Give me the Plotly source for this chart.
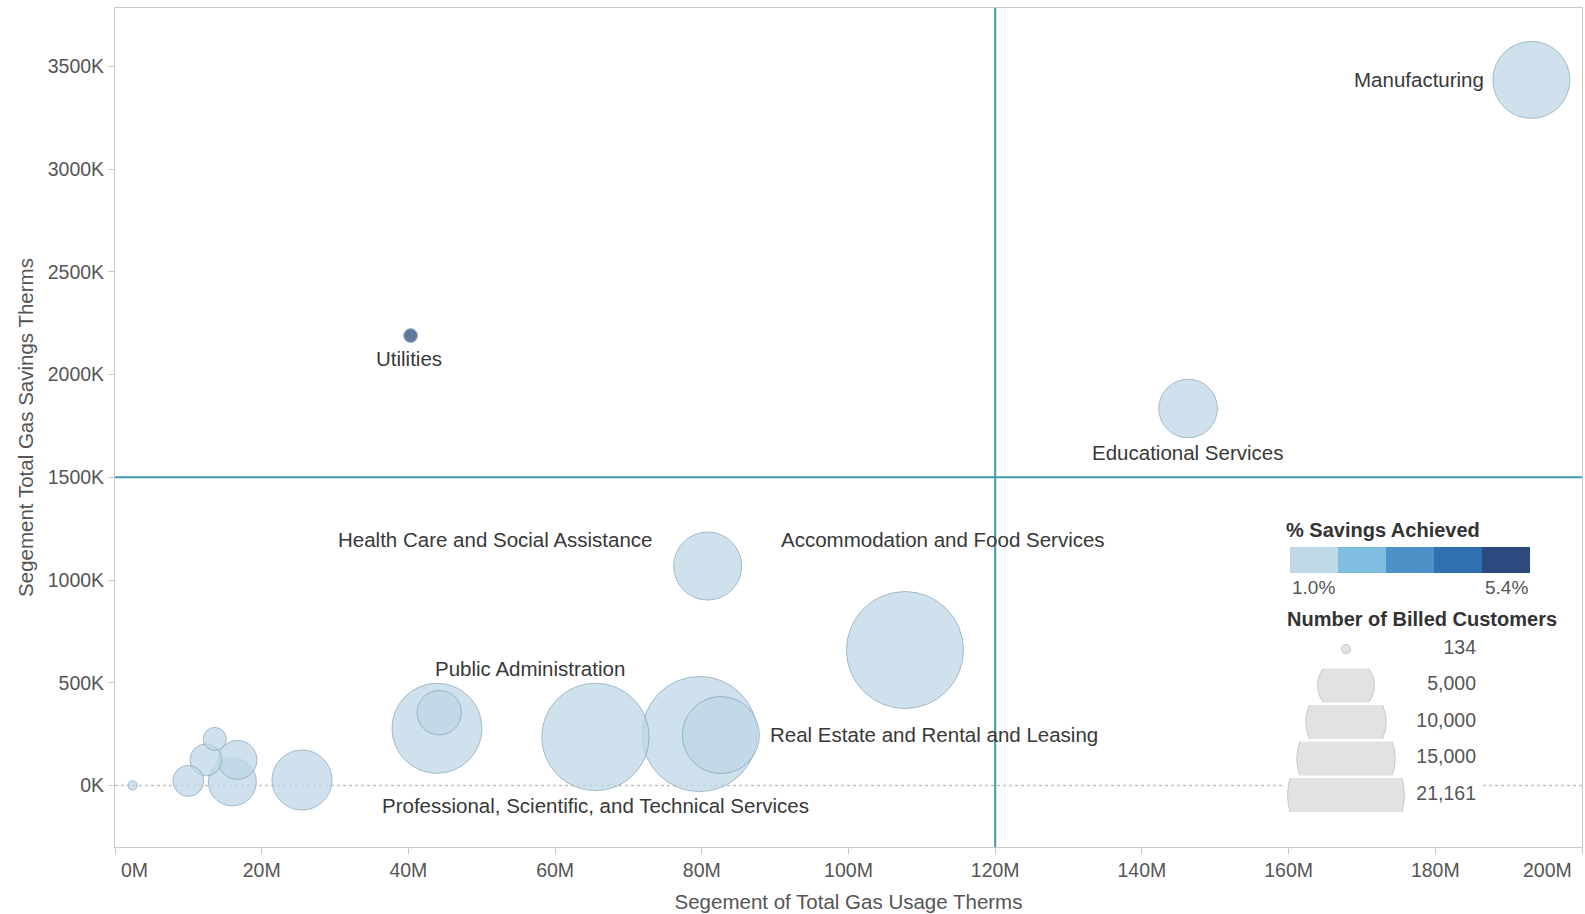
import plotly.graph_objects as go

# ---------------- data ----------------
industries = [
    "Accommodation and Food Services", "Retail Trade",
    "Professional, Scientific, and Technical Services", "Public Administration",
    "Manufacturing", "Real Estate and Rental and Leasing",
    "Health Care and Social Assistance", "Educational Services",
    "Other Services", "Construction", "Finance and Insurance",
    "Wholesale Trade", "Information", "Transportation and Warehousing",
    "Arts, Entertainment, and Recreation", "Utilities", "Mining",
]
usage_mtherms = [107.7, 79.7, 65.5, 43.9, 193.1, 82.6, 80.8, 146.3,
                 25.5, 16.0, 44.2, 16.7, 12.4, 10.0, 13.6, 40.3, 2.4]
savings_ktherms = [659, 250, 236, 278, 3435, 245, 1068, 1835,
                   26, 17, 354, 124, 124, 22, 226, 2190, 0]
billed_customers = [21161, 20500, 17830, 12520, 9170, 9170, 7150, 5310,
                    5570, 3560, 3050, 2350, 1580, 1490, 820, 300, 134]
pct_savings = [1.1, 1.0, 1.2, 1.1, 1.8, 1.2, 1.4, 1.3,
               1.2, 1.3, 1.5, 1.4, 1.6, 1.2, 1.5, 5.4, 1.0]

labelled = ["Manufacturing", "Utilities", "Educational Services",
            "Health Care and Social Assistance", "Accommodation and Food Services",
            "Public Administration", "Professional, Scientific, and Technical Services",
            "Real Estate and Rental and Leasing"]

x_tick_vals_m = [0, 20, 40, 60, 80, 100, 120, 140, 160, 180, 200]
x_tick_text = ["0M", "20M", "40M", "60M", "80M", "100M", "120M", "140M", "160M", "180M", "200M"]
y_tick_vals_k = [0, 500, 1000, 1500, 2000, 2500, 3000, 3500]
y_tick_text = ["0K", "500K", "1000K", "1500K", "2000K", "2500K", "3000K", "3500K"]

ref_usage_m = 120
ref_savings_k = 1500

pct_min, pct_max = 1.0, 5.4
bin_colors = ["#bed8e6", "#80bde0", "#4c92c8", "#2e70b0", "#2c4a7f"]
legend_sizes = [134, 5000, 10000, 15000, 21161]
legend_size_text = ["134", "5,000", "10,000", "15,000", "21,161"]

# ---------------- layout constants ----------------
W, H = 1585, 914
ML, MR, MT, MB = 115, 3, 8, 67
PW, PH = W - ML - MR, H - MT - MB
FONT = "Liberation Sans, Arial, sans-serif"
MAX_R = 58.5
sizeref = max(legend_sizes) / (2 * MAX_R ** 2)
TICK_C = "#555555"

def px_x(p):
    return (p - ML) / PW

def px_y(p):
    return (H - MB - p) / PH

# stepped colorscale
nb = len(bin_colors)
colorscale = []
for i, c in enumerate(bin_colors):
    colorscale.append([i / nb, c])
    colorscale.append([(i + 1) / nb, c])

usage = [v * 1e6 for v in usage_mtherms]
savings = [v * 1e3 for v in savings_ktherms]

fig = go.Figure()

fig.add_trace(go.Scatter(
    x=usage, y=savings, mode="markers", text=industries,
    hovertemplate="%{text}<br>Usage: %{x:,.0f}<br>Savings: %{y:,.0f}<extra></extra>",
    marker=dict(size=billed_customers, sizemode="area", sizeref=sizeref,
                color=pct_savings, colorscale=colorscale, cmin=pct_min, cmax=pct_max,
                showscale=False, opacity=0.75,
                line=dict(color="#86a2b4", width=1)),
    cliponaxis=True, showlegend=False,
))

# reference lines & zero line
fig.add_hline(y=0, line=dict(color="#c4c4c4", width=1.5, dash="dot"), layer="below")
fig.add_vline(x=ref_usage_m * 1e6, line=dict(color="#3d9aa9", width=2))
fig.add_hline(y=ref_savings_k * 1e3, line=dict(color="#3d9aa9", width=2))

# data labels (anchor, xshift, yshift in px)
label_place = {
    "Manufacturing": ("right", -45, 0),
    "Utilities": ("center", -2, -23),
    "Educational Services": ("center", -1, -44),
    "Health Care and Social Assistance": ("right", -53, 27),
    "Accommodation and Food Services": ("left", -126, 111),
    "Public Administration": ("center", 93, 60),
    "Professional, Scientific, and Technical Services": ("center", 0, -69),
    "Real Estate and Rental and Leasing": ("left", 47, 1),
}
for name in labelled:
    i = industries.index(name)
    anc, dx, dy = label_place[name]
    fig.add_annotation(x=usage[i], y=savings[i], xref="x", yref="y", text=name,
                       showarrow=False, xanchor=anc, yanchor="middle",
                       xshift=dx, yshift=dy,
                       font=dict(family=FONT, size=20.5, color="#383838"))

# end tick labels (aligned inward like the original)
fig.add_annotation(x=x_tick_vals_m[0] * 1e6, y=0, xref="x", yref="paper", yanchor="top",
                   xanchor="left", yshift=-10, xshift=4, text=x_tick_text[0], showarrow=False,
                   font=dict(family=FONT, size=19.5, color=TICK_C))
fig.add_annotation(x=x_tick_vals_m[-1] * 1e6, y=0, xref="x", yref="paper", yanchor="top",
                   xanchor="right", yshift=-10, xshift=-8, text=x_tick_text[-1], showarrow=False,
                   font=dict(family=FONT, size=19.5, color=TICK_C))
mid_text = [""] + x_tick_text[1:-1] + [""]

axis_common = dict(showgrid=False, zeroline=False, showline=True, linecolor="#c9c9c9",
                   linewidth=1, mirror=True, ticks="outside", ticklen=6, tickcolor="#c9c9c9",
                   tickfont=dict(family=FONT, size=19.5, color=TICK_C))

fig.update_layout(
    width=W, height=H, paper_bgcolor="white", plot_bgcolor="white",
    margin=dict(l=ML, r=MR, t=MT, b=MB),
    font=dict(family=FONT),
    xaxis=dict(range=[0, 200e6], tickvals=[v * 1e6 for v in x_tick_vals_m], ticktext=mid_text,
               title=dict(text="Segement of Total Gas Usage Therms", standoff=14,
                          font=dict(family=FONT, size=20.5, color=TICK_C)),
               **axis_common),
    yaxis=dict(range=[-300e3, 3785e3], tickvals=[v * 1e3 for v in y_tick_vals_k], ticktext=y_tick_text,
               title=dict(text="Segement Total Gas Savings Therms", standoff=8,
                          font=dict(family=FONT, size=20.5, color=TICK_C)),
               **axis_common),
)

# ---------------- colour legend ----------------
bin_w = (pct_max - pct_min) / nb
bin_mids = [pct_min + bin_w * (i + 0.5) for i in range(nb)]
cx0, cx1, cy0, cy1 = 1290, 1530, 547, 573
fig.add_trace(go.Heatmap(z=[bin_mids], x=bin_mids, y=[0], zmin=pct_min, zmax=pct_max,
                         colorscale=colorscale, showscale=False, hoverinfo="skip",
                         xaxis="x7", yaxis="y7"))
fig.update_layout(
    xaxis7=dict(domain=[px_x(cx0), px_x(cx1)], range=[pct_min, pct_max], visible=False,
                anchor="y7", fixedrange=True),
    yaxis7=dict(domain=[px_y(cy1), px_y(cy0)], range=[-0.5, 0.5], visible=False,
                anchor="x7", fixedrange=True),
)
fig.add_annotation(x=px_x(1284), y=px_y(530), xref="paper", yref="paper", text="<b>% Savings Achieved</b>",
                   showarrow=False, xanchor="left", yanchor="middle",
                   font=dict(family=FONT, size=20, color="#333333"))
fig.add_annotation(x=px_x(cx0), y=px_y(587), xref="paper", yref="paper", text=f"{pct_min:.1f}%",
                   showarrow=False, xanchor="left", yanchor="middle",
                   font=dict(family=FONT, size=19, color=TICK_C))
fig.add_annotation(x=px_x(cx1), y=px_y(587), xref="paper", yref="paper", text=f"{pct_max:.1f}%",
                   showarrow=False, xanchor="right", yanchor="middle",
                   font=dict(family=FONT, size=19, color=TICK_C))

# ---------------- size legend ----------------
fig.add_annotation(x=px_x(1285), y=px_y(619), xref="paper", yref="paper", text="<b>Number of Billed Customers</b>",
                   showarrow=False, xanchor="left", yanchor="middle",
                   font=dict(family=FONT, size=20, color="#333333"))
lx0, lx1 = 1285, 1480
row_c0, row_step, row_half = 649, 36.5, 17
for k, (sz, txt) in enumerate(zip(legend_sizes, legend_size_text)):
    ax = k + 2
    c = row_c0 + k * row_step
    fig.add_trace(go.Scatter(x=[61], y=[0], mode="markers",
                             marker=dict(size=[sz], sizemode="area", sizeref=sizeref,
                                         color="#d6d6d6", line=dict(color="#b2b2b2", width=1)),
                             cliponaxis=True, hoverinfo="skip", showlegend=False,
                             xaxis=f"x{ax}", yaxis=f"y{ax}"))
    fig.add_trace(go.Scatter(x=[191], y=[0], mode="text", text=[txt], textposition="middle left",
                             textfont=dict(family=FONT, size=19.5, color=TICK_C),
                             cliponaxis=False, hoverinfo="skip", showlegend=False,
                             xaxis=f"x{ax}", yaxis=f"y{ax}"))
    fig.update_layout(**{
        f"xaxis{ax}": dict(domain=[px_x(lx0), px_x(lx1)], range=[0, lx1 - lx0], visible=False,
                           anchor=f"y{ax}", fixedrange=True),
        f"yaxis{ax}": dict(domain=[px_y(c + row_half), px_y(c - row_half)], range=[-1, 1],
                           visible=False, anchor=f"x{ax}", fixedrange=True),
    })

fig.write_html("out.html", config={"displayModeBar": False},
               post_script="document.body.style.margin='0px';document.body.style.overflow='hidden';")
